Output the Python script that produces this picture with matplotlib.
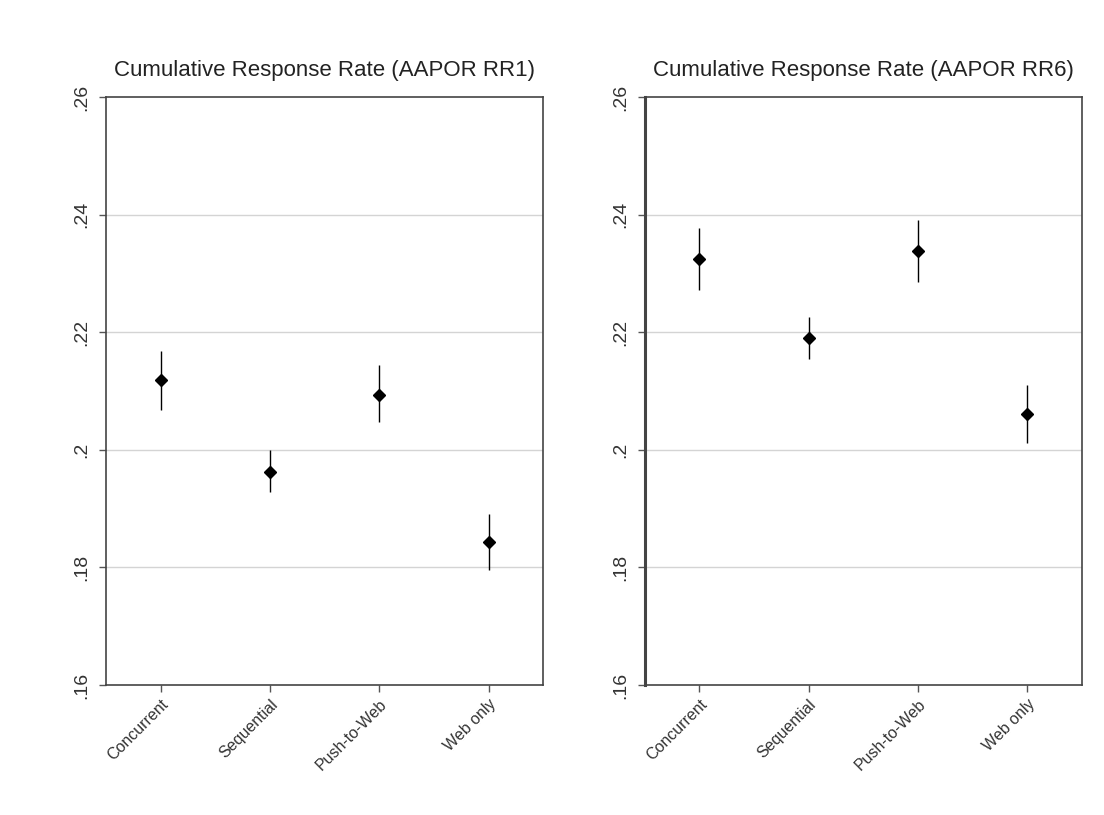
import numpy as np
import matplotlib
matplotlib.use("Agg")
import matplotlib.pyplot as plt

plt.rcParams['font.family'] = ['Liberation Sans', 'DejaVu Sans']

categories = ["Concurrent", "Sequential", "Push-to-Web", "Web only"]
titles = ["Cumulative Response Rate (AAPOR RR1)",
          "Cumulative Response Rate (AAPOR RR6)"]

# point estimates and 95% CI bounds
rr1_est = [0.2119, 0.1963, 0.2093, 0.1844]
rr1_lo = [0.2068, 0.1928, 0.2048, 0.1796]
rr1_hi = [0.2168, 0.1999, 0.2144, 0.1891]

rr6_est = [0.2325, 0.2190, 0.2338, 0.2061]
rr6_lo = [0.2272, 0.2154, 0.2286, 0.2011]
rr6_hi = [0.2377, 0.2226, 0.2390, 0.2111]

yticks = [0.16, 0.18, 0.20, 0.22, 0.24, 0.26]
ytick_labels = [".16", ".18", ".2", ".22", ".24", ".26"]

fig = plt.figure(figsize=(11.04, 8.15), dpi=100)
ax_pos = [[0.096, 0.1595, 0.396, 0.7215],
          [0.584, 0.1595, 0.396, 0.7215]]
series = [(rr1_est, rr1_lo, rr1_hi), (rr6_est, rr6_lo, rr6_hi)]

for i, (est, lo, hi) in enumerate(series):
    ax = fig.add_axes(ax_pos[i])
    x = np.arange(1, len(categories) + 1)
    est = np.array(est)
    ax.vlines(x, lo, hi, color="black", lw=1.0, zorder=3)
    ax.plot(x, est, "D", color="black", ms=6.5, zorder=4)

    ax.set_xlim(0.5, 4.5)
    ax.set_ylim(0.16, 0.26)
    ax.set_yticks(yticks)
    ax.set_yticklabels(ytick_labels, rotation=90, va="center", fontsize=14,
                       color="#333333")
    ax.set_xticks(x)
    ax.set_xticklabels(categories, rotation=45, ha="right",
                       rotation_mode="anchor", fontsize=11.5, color="#333333")
    for yv in yticks[1:-1]:
        ax.axhline(yv, color="#d4d4d4", lw=1.0, zorder=1)
    ax.tick_params(axis="both", direction="out", length=5, color="#555555",
                   width=1.0)
    ax.tick_params(axis="y", pad=6)
    for sp in ax.spines.values():
        sp.set_color("#444444")
        sp.set_linewidth(1.2)
    if i == 1:
        ax.spines["left"].set_linewidth(2.2)
    ax.set_title(titles[i], fontsize=16, color="#222222", pad=15)

fig.savefig("out.png", dpi=100, facecolor="white")
